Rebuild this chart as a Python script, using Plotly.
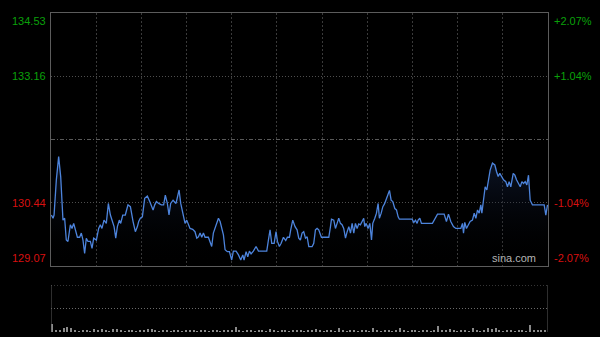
import plotly.graph_objects as go

# ---------------- data ----------------
minutes = [0.3, 1.6, 2.4, 4.2, 6.0, 7.6, 9.4, 10.7, 12.0, 13.3, 15.2, 16.5, 17.8, 19.1, 20.7, 22.5,
           23.8, 25.1, 26.4, 27.7, 29.0, 30.9, 32.2, 33.5, 35.6, 37.4, 38.7, 40.0, 41.6, 43.4, 45.0,
           46.6, 47.9, 49.5, 50.8, 52.1, 53.6, 54.7, 56.3, 58.3, 60.4, 62.3, 64.4, 66.2, 67.8, 68.8,
           70.1, 71.7, 73.5, 75.6, 77.5, 78.8, 80.1, 81.4, 82.7, 84.5, 86.6, 88.4, 89.7, 91.3, 92.6,
           93.9, 95.8, 98.1, 99.2, 100.5, 101.8, 103.4, 105.2, 106.5, 107.8, 109.1, 111.2, 113.0,
           114.4, 115.7, 117.0, 118.3, 119.6, 120.9, 123.5, 124.8, 126.1, 127.4, 129.5, 131.4, 132.7,
           134.0, 135.3, 136.6, 138.4, 140.0, 141.8, 143.1, 145.2, 147.1, 148.9, 150.5, 151.5, 153.1,
           154.4, 155.7, 157.0, 158.8, 160.9, 162.8, 166.7, 169.3, 170.6, 171.9, 173.2, 175.1, 176.6,
           177.7, 179.2, 180.6, 182.4, 184.2, 185.5, 187.1, 188.1, 189.7, 191.5, 193.1, 194.4, 195.7,
           197.0, 198.3, 199.7, 201.0, 202.3, 204.9, 206.2, 207.5, 208.8, 210.1, 212.2, 214.0, 218.0,
           219.3, 220.1, 221.9, 223.2, 224.5, 225.8, 227.1, 228.4, 229.7, 231.1, 232.4, 233.7, 235.0,
           236.3, 237.6, 238.9, 240.2, 241.5, 242.8, 244.1, 245.4, 246.2, 247.3, 248.8, 250.2, 251.5,
           252.5, 254.1, 255.4, 256.7, 257.7, 259.1, 260.4, 261.7, 263.0, 264.3, 265.6, 266.9, 268.2,
           269.8, 271.1, 272.4, 273.4, 275.5, 282.1, 283.4, 284.7, 286.0, 287.3, 288.1, 289.4, 290.7,
           299.3, 301.2, 303.3, 308.5, 310.3, 311.9, 313.7, 315.8, 317.7, 321.6, 322.9, 323.7, 324.7,
           326.0, 327.6, 328.9, 330.7, 332.1, 333.4, 334.7, 336.0, 337.3, 338.1, 339.4, 340.7, 342.0,
           343.0, 344.6, 346.4, 348.3, 349.6, 350.9, 352.2, 353.5, 355.1, 356.9, 358.2, 359.5, 360.8,
           362.7, 364.0, 365.3, 366.6, 368.2, 369.5, 370.8, 372.1, 373.4, 374.7, 376.0, 377.8, 387.0,
           388.3, 389.6]
prices = [130.17, 130.10, 130.17, 130.93, 131.43, 131.00, 130.06, 130.10, 129.63, 129.60, 129.96,
          129.88, 129.99, 129.85, 129.69, 129.69, 129.78, 129.63, 129.34, 129.67, 129.60, 129.60,
          129.45, 129.67, 129.63, 129.88, 129.96, 129.88, 130.06, 129.99, 130.42, 130.17, 130.06,
          129.92, 129.67, 129.92, 130.06, 129.99, 130.17, 130.17, 130.39, 130.35, 130.03, 129.81,
          129.92, 130.03, 130.10, 130.13, 130.53, 130.58, 130.46, 130.35, 130.28, 130.39, 130.46,
          130.42, 130.39, 130.39, 130.60, 130.42, 130.17, 130.42, 130.49, 130.42, 130.53, 130.71,
          130.42, 130.24, 129.99, 130.06, 129.96, 129.88, 129.86, 129.81, 129.67, 129.70, 129.78,
          129.69, 129.78, 129.69, 129.69, 129.60, 129.49, 129.78, 129.96, 130.10, 130.03, 129.88,
          129.74, 129.42, 129.38, 129.38, 129.20, 129.39, 129.39, 129.31, 129.20, 129.31, 129.20,
          129.38, 129.27, 129.39, 129.33, 129.39, 129.49, 129.39, 129.39, 129.39, 129.63, 129.85,
          129.56, 129.56, 129.81, 129.60, 129.49, 129.56, 129.69, 129.62, 129.69, 129.69, 129.85,
          130.06, 129.92, 129.85, 129.67, 129.63, 129.78, 129.81, 129.67, 129.70, 129.49, 129.49,
          129.56, 129.85, 129.88, 129.85, 129.69, 129.69, 129.69, 129.92, 130.08, 130.06, 129.88,
          129.99, 130.10, 129.99, 129.96, 129.88, 129.67, 129.81, 129.92, 129.78, 129.99, 129.78,
          129.99, 129.88, 129.98, 129.96, 130.03, 130.10, 129.92, 129.99, 129.88, 129.99, 129.63,
          129.99, 130.10, 130.21, 130.42, 130.10, 130.21, 130.35, 130.41, 130.51, 130.60, 130.70,
          130.49, 130.46, 130.31, 130.28, 130.13, 130.08, 130.08, 130.08, 130.08, 130.01, 130.06,
          129.99, 130.06, 130.10, 129.99, 129.99, 130.10, 130.19, 130.19, 130.03, 130.19, 130.03,
          129.92, 129.88, 129.88, 129.99, 129.78, 130.01, 129.88, 129.96, 130.03, 130.06, 130.21,
          130.10, 130.28, 130.21, 130.39, 130.21, 130.49, 130.78, 130.71, 130.89, 131.14, 131.29,
          131.25, 131.11, 131.00, 131.07, 131.00, 130.93, 130.89, 130.78, 130.89, 130.78, 131.07,
          131.03, 130.93, 130.85, 130.78, 130.89, 130.85, 130.89, 130.82, 131.03, 130.49, 130.39,
          130.39, 130.17, 130.39]

# volume, one value per 3-minute slot
volumes = [18, 4, 3, 9, 10, 8, 3, 2, 4, 3, 2, 6, 5, 6, 3, 2, 7, 6, 3, 2, 4, 3, 2, 3, 4, 6, 6, 3,
           2, 4, 3, 2, 3, 4, 2, 3, 5, 3, 2, 4, 3, 2, 3, 4, 2, 3, 4, 3, 10, 3, 2, 4, 3, 2, 3, 4, 2,
           6, 3, 2, 4, 3, 2, 3, 4, 3, 2, 3, 4, 6, 3, 2, 3, 4, 2, 8, 3, 2, 4, 3, 2, 3, 4, 2, 8, 3,
           2, 4, 3, 2, 3, 8, 3, 2, 4, 3, 2, 3, 4, 2, 3, 12, 3, 4, 6, 3, 2, 4, 3, 2, 8, 3, 2, 4, 8,
           7, 8, 3, 2, 4, 3, 2, 3, 4, 2, 14, 3, 4, 3, 4]

y_ticks = [134.53, 133.16, 131.80, 130.44, 129.07]
pct_ticks = ["+2.07%", "+1.04%", "0.00%", "-1.04%", "-2.07%"]
session_minutes = 390
grid_divisions = 11
watermark = "sina.com"

# ---------------- figure ----------------
GREEN = "#0aa00a"
RED = "#d81010"
BORDER = "#5c5c5c"
VGRID = "#3a3a3a"
HGRID = "#4e4e4e"
VOLGRID = "#6a6a6a"

vol_x = [3 * i + 1 for i in range(len(volumes))]
grid_x = [session_minutes * k / grid_divisions for k in range(1, grid_divisions)]
prev_close = y_ticks[2]

fig = go.Figure()
fig.add_trace(go.Scatter(
    x=minutes, y=prices, mode="lines",
    line=dict(color="#4d84dc", width=1.3),
    fill="tozeroy",
    fillgradient=dict(type="vertical", start=y_ticks[-1], stop=max(prices),
                      colorscale=[[0, "rgba(0,0,0,0)"], [1, "rgba(25,42,80,0.5)"]]),
    xaxis="x", yaxis="y", hoverinfo="skip", showlegend=False))

fig.add_trace(go.Bar(
    x=vol_x, y=volumes, width=1.0,
    marker=dict(color="#8a8a8a", line=dict(width=0)),
    xaxis="x2", yaxis="y2", hoverinfo="skip", showlegend=False))

x_dom = [51 / 600, 548 / 600]
fig.update_layout(
    width=600, height=337,
    margin=dict(l=0, r=0, t=0, b=0),
    paper_bgcolor="#000000", plot_bgcolor="#000000",
    font=dict(family="Liberation Sans, Arial, sans-serif", size=11),
    bargap=0,
    xaxis=dict(domain=x_dom, range=[0, session_minutes], tickvals=grid_x,
               showticklabels=False, ticks="", showgrid=True, gridcolor=VGRID,
               griddash="2px,2px", gridwidth=1, zeroline=False,
               showline=True, linecolor=BORDER, linewidth=1, mirror=True),
    yaxis=dict(domain=[(337 - 266) / 337, (337 - 13) / 337],
               range=[y_ticks[-1], y_ticks[0]], tickvals=[y_ticks[1], y_ticks[3]],
               showticklabels=False, ticks="", showgrid=True, gridcolor=HGRID,
               griddash="1px,2px", gridwidth=1, zeroline=False,
               showline=True, linecolor=BORDER, linewidth=1, mirror=True),
    xaxis2=dict(domain=x_dom, range=[0, session_minutes], anchor="y2",
                showticklabels=False, ticks="", showgrid=False, zeroline=False,
                showline=False),
    yaxis2=dict(domain=[(337 - 332) / 337, (337 - 285) / 337], anchor="x2",
                range=[0, 100], tickvals=[50],
                showticklabels=False, ticks="", showgrid=True, gridcolor=VOLGRID,
                griddash="1px,2px", zeroline=False, showline=False),
)

# volume panel: solid left/right borders and dotted top line
for xr in [0, session_minutes]:
    fig.add_shape(type="line", xref="x2", yref="y2", x0=xr, x1=xr, y0=0, y1=100,
                  line=dict(color=BORDER, width=1))
fig.add_shape(type="line", xref="x2", yref="y2", x0=0, x1=session_minutes, y0=100, y1=100,
              line=dict(color=VOLGRID, width=1, dash="1px,2px"))

# previous close dash-dot line
fig.add_shape(type="line", xref="x", yref="y", x0=0, x1=session_minutes,
              y0=prev_close, y1=prev_close,
              line=dict(color="#5a5a5a", width=1, dash="4px,2px,1px,2px"))

# labels
anchors = ["top", "middle", None, "middle", "bottom"]
for i, (v, p) in enumerate(zip(y_ticks, pct_ticks)):
    if anchors[i] is None:
        continue
    col = GREEN if v > prev_close else RED
    fig.add_annotation(xref="paper", yref="y", x=48 / 600, y=v, text=f"{v:.2f}",
                       showarrow=False, xanchor="right", yanchor=anchors[i],
                       font=dict(color=col, size=11))
    fig.add_annotation(xref="paper", yref="y", x=552 / 600, y=v, text=p,
                       showarrow=False, xanchor="left", yanchor=anchors[i],
                       font=dict(color=col, size=11))

fig.add_annotation(xref="paper", yref="y", x=538 / 600, y=y_ticks[-1], text=watermark,
                   showarrow=False, xanchor="right", yanchor="bottom",
                   font=dict(color="#b4b4b4", size=11))

fig.write_html("out.html")
